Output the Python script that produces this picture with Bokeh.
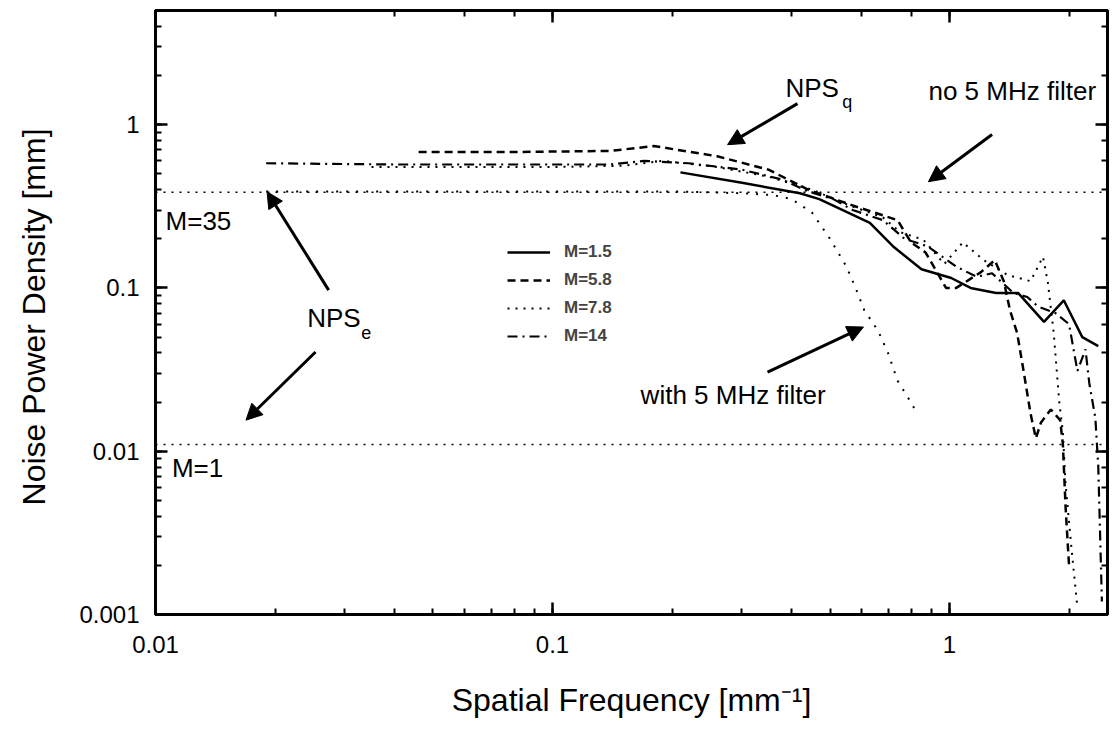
from bokeh.plotting import figure
from bokeh.models import (LogAxis, CustomJSTickFormatter, Legend, LegendItem,
                          Arrow, NormalHead, Label)
from bokeh.embed import file_html
from bokeh.resources import INLINE

FONT = "Liberation Sans"

# Noise power spectra for several magnifications (spatial frequency in mm^-1, NPS in mm)
freq_m15 = [0.21, 0.30, 0.42, 0.47, 0.63, 0.72, 0.85, 1.01, 1.13, 1.31, 1.49, 1.73, 1.94, 2.16, 2.37]
nps_m15 = [0.51, 0.44, 0.38, 0.35, 0.25, 0.18, 0.13, 0.115, 0.10, 0.093, 0.093, 0.062, 0.084, 0.05, 0.044]

freq_m58 = [0.046, 0.08, 0.14, 0.18, 0.26, 0.35, 0.44, 0.57, 0.74, 0.80, 0.87, 0.98, 1.04, 1.20,
            1.30, 1.37, 1.42, 1.48, 1.53, 1.60, 1.65, 1.70, 1.80, 1.90, 1.93, 1.96, 2.00]
nps_m58 = [0.68, 0.68, 0.69, 0.74, 0.64, 0.53, 0.40, 0.32, 0.26, 0.19, 0.165, 0.10, 0.10, 0.125,
           0.148, 0.11, 0.073, 0.053, 0.033, 0.017, 0.012, 0.015, 0.018, 0.0155, 0.011, 0.0046, 0.002]

freq_m78 = [0.035, 0.06, 0.10, 0.15, 0.19, 0.26, 0.35, 0.45, 0.56, 0.68, 0.75, 0.86, 0.97, 1.08,
            1.22, 1.40, 1.60, 1.72, 1.77, 1.83, 1.89, 1.93, 1.96, 2.03, 2.10]
nps_m78 = [0.55, 0.55, 0.55, 0.56, 0.60, 0.55, 0.48, 0.40, 0.32, 0.27, 0.22, 0.197, 0.14, 0.19,
           0.148, 0.12, 0.11, 0.155, 0.107, 0.053, 0.02, 0.013, 0.0063, 0.0025, 0.0011]

freq_m14 = [0.019, 0.04, 0.08, 0.14, 0.17, 0.22, 0.30, 0.38, 0.44, 0.51, 0.57, 0.68, 0.77, 0.88,
            1.04, 1.17, 1.28, 1.45, 1.57, 1.67, 1.85, 2.00, 2.10, 2.20, 2.25, 2.33, 2.37, 2.42]
nps_m14 = [0.58, 0.57, 0.57, 0.57, 0.60, 0.58, 0.53, 0.46, 0.39, 0.35, 0.30, 0.26, 0.20, 0.18,
           0.135, 0.117, 0.123, 0.093, 0.088, 0.077, 0.07, 0.06, 0.031, 0.042, 0.026, 0.016, 0.008, 0.0012]

# Electronic noise, M=35, with the 5 MHz filter
freq_filt = [0.019, 0.10, 0.20, 0.30, 0.36, 0.40, 0.45, 0.50, 0.55, 0.58, 0.61, 0.66, 0.70, 0.74, 0.78, 0.83]
nps_filt = [0.39, 0.39, 0.39, 0.38, 0.37, 0.35, 0.29, 0.20, 0.135, 0.10, 0.073, 0.055, 0.04, 0.027, 0.022, 0.017]

# Flat electronic noise level (no filter) scaled by magnification
nps_e_unit = 0.011
nps_e_mags = [1, 35]
freq_span = [0.01, 2.5]

p = figure(x_axis_type="log", y_axis_type="log", x_range=(0.01, 2.5), y_range=(0.001, 5),
           width=1112, height=732, min_border_left=155, min_border_right=5,
           min_border_top=10, min_border_bottom=118,
           output_backend="svg", toolbar_location=None)
p.xgrid.visible = False
p.ygrid.visible = False
p.outline_line_color = "black"
p.outline_line_width = 3

fmt = CustomJSTickFormatter(code="return Number(tick.toPrecision(3)).toString();")
blank = CustomJSTickFormatter(code="return '';")


def style_axis(ax, labels=True):
    ax.major_tick_in = 12
    ax.major_tick_out = 0
    ax.minor_tick_in = 6
    ax.minor_tick_out = 0
    ax.major_tick_line_width = 2.5
    ax.minor_tick_line_width = 2
    ax.axis_line_width = 3
    ax.axis_line_color = "black"
    if labels:
        ax.formatter = fmt
        ax.major_label_text_font = FONT
        ax.major_label_text_font_size = "24px"
        ax.major_label_text_color = "black"
        ax.axis_label_text_font = FONT
        ax.axis_label_text_font_size = "32px"
        ax.axis_label_text_font_style = "normal"
        ax.axis_label_text_color = "black"
    else:
        ax.formatter = blank
        ax.major_label_text_font_size = "1px"
        ax.major_label_text_alpha = 0
        ax.major_label_standoff = 0


style_axis(p.xaxis[0])
style_axis(p.yaxis[0])
p.xaxis[0].major_label_standoff = 21
p.yaxis[0].major_label_standoff = 16
p.xaxis[0].axis_label = "Spatial Frequency [mm\u207b\u00b9]"
p.yaxis[0].axis_label = "Noise Power Density  [mm]"
p.xaxis[0].axis_label_standoff = 26
p.yaxis[0].axis_label_standoff = 24

top_ax = LogAxis()
right_ax = LogAxis()
style_axis(top_ax, labels=False)
style_axis(right_ax, labels=False)
p.add_layout(top_ax, "above")
p.add_layout(right_ax, "right")

# NPS_e horizontal levels
for m in nps_e_mags:
    level = nps_e_unit * m
    p.line(freq_span, [level, level], line_color="black", line_width=1.6, line_dash="2 6")

p.line(freq_filt, nps_filt, line_color="black", line_width=2, line_dash="2 8")

r15 = p.line(freq_m15, nps_m15, line_color="black", line_width=2.5)
r58 = p.line(freq_m58, nps_m58, line_color="black", line_width=2.5, line_dash="8 5")
r78 = p.line(freq_m78, nps_m78, line_color="black", line_width=2, line_dash="2 6")
r14 = p.line(freq_m14, nps_m14, line_color="black", line_width=2.2, line_dash="10 5 2 5")

legend = Legend(items=[LegendItem(label="M=1.5", renderers=[r15]),
                       LegendItem(label="M=5.8", renderers=[r58]),
                       LegendItem(label="M=7.8", renderers=[r78]),
                       LegendItem(label="M=14", renderers=[r14])],
                location=(352, 268), glyph_width=43, glyph_height=20, spacing=8,
                label_text_font=FONT, label_text_font_style="bold",
                label_text_font_size="17px", label_standoff=14, padding=10, margin=0,
                border_line_color=None, background_fill_alpha=0)
p.add_layout(legend)


def arrow(x0, y0, x1, y1):
    p.add_layout(Arrow(end=NormalHead(size=16, fill_color="black", line_color="black"),
                       x_start=x0, y_start=y0, x_end=x1, y_end=y1,
                       line_width=3, line_color="black"))


arrow(0.0273, 0.097, 0.0191, 0.388)
arrow(0.0253, 0.0405, 0.0169, 0.0155)
arrow(0.414, 1.345, 0.276, 0.754)
arrow(1.28, 0.87, 0.885, 0.447)
arrow(0.348, 0.0305, 0.607, 0.0576)


def label(x, y, text, size="26px"):
    p.add_layout(Label(x=x, y=y, text=text, text_font=FONT, text_font_size=size,
                       text_baseline="middle", text_align="left", text_color="black"))


label(0.386, 1.687, "NPS")
label(0.537, 1.38, "q", "18px")
label(0.885, 1.617, "no 5 MHz filter")
label(0.1667, 0.0221, "with 5 MHz filter")
label(0.0241, 0.0655, "NPS")
label(0.0330, 0.0530, "e", "18px")
label(0.0106, 0.2576, "M=35")
label(0.0110, 0.00787, "M=1")

open("out.html", "w").write(file_html(p, INLINE))
